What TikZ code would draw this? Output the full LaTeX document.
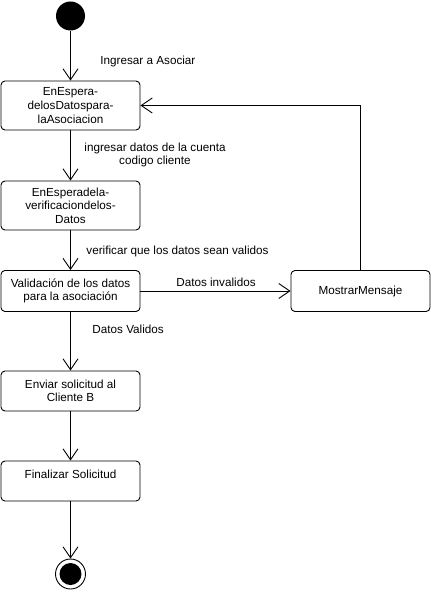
\documentclass[tikz,border=0pt]{standalone}
\usepackage{fontspec}
\setmainfont{Liberation Sans}
\usetikzlibrary{arrows.meta}
\begin{document}
\begin{tikzpicture}[x=1pt,y=-1pt,
  font=\fontsize{11.7}{13.6}\selectfont,
  box/.style={draw, line width=0.9pt, rounded corners=4pt, minimum width=139pt, align=center, inner sep=0pt},
  arr/.style={line width=0.9pt, -{Straight Barb[length=11pt,width=15pt,line width=0.9pt]}},
  lbl/.style={inner sep=0pt, align=center}]
\useasboundingbox (0,0) rectangle (431,591);
\node[circle, fill=black, minimum size=29pt, inner sep=0pt] (start) at (70.5,16) {};
\node[box, minimum height=49pt] (b1) at (70.5,105.5) {EnEspera-\\delosDatospara-\\laAsociacion};
\node[box, minimum height=49pt] (b2) at (70.5,205.5) {EnEsperadela-\\verificaciondelos-\\Datos};
\node[box, minimum height=41pt] (b3) at (70.5,291) {Validación de los datos\\para la asociación};
\node[box, minimum height=41pt] (mm) at (360.5,291) {MostrarMensaje};
\node[box, minimum height=40pt] (b4) at (70.5,391) {Enviar solicitud al\\Cliente B};
\node[box, minimum height=40pt] (b5) at (70.5,481) {Finalizar Solicitud\\\mbox{}};
\node[circle, draw, line width=0.9pt, minimum size=30pt, inner sep=0pt] (end) at (70.5,574) {};
\node[circle, fill=black, minimum size=22pt, inner sep=0pt] at (end) {};
\coordinate (corner) at (360.5,105.5);
\draw[arr] (start) -- (b1) node[lbl, anchor=west] at (100,61) {Ingresar a Asociar};
\draw[arr] (b1) -- (b2) node[lbl] at (155,155) {ingresar datos de la cuenta\\codigo cliente};
\draw[arr] (b2) -- (b3) node[lbl, anchor=west] at (86,251) {verificar que los datos sean validos};
\draw[arr] (b3) -- (mm) node[lbl] at (216,282) {Datos invalidos};
\draw[arr] (mm.north) -- (corner) -- (b1.east);
\draw[arr] (b3) -- (b4) node[lbl, anchor=west] at (92,329) {Datos Validos};
\draw[arr] (b4) -- (b5);
\draw[arr] (b5) -- (end);
\end{tikzpicture}
\end{document}
